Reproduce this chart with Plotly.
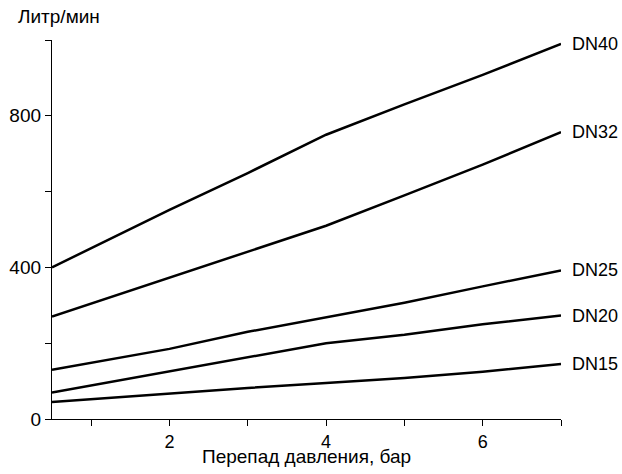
import plotly.graph_objects as go

pressure = [0.5, 2, 3, 4, 5, 6, 7]
dn40 = [400, 552, 649, 750, 830, 908, 990]
dn32 = [270, 372, 442, 510, 590, 671, 757]
dn25 = [130, 185, 230, 268, 307, 350, 392]
dn20 = [70, 125, 162, 200, 222, 250, 273]
dn15 = [45, 68, 82, 95, 108, 125, 145]
series_names = ["DN40", "DN32", "DN25", "DN20", "DN15"]
series_values = [dn40, dn32, dn25, dn20, dn15]

font_family = "Liberation Sans, Arial, sans-serif"
fsize = 19

fig = go.Figure()
for name, vals in zip(series_names, series_values):
    fig.add_trace(go.Scatter(x=pressure, y=vals, mode="lines", name=name,
                             line=dict(color="black", width=2.5), cliponaxis=False))
    fig.add_annotation(x=pressure[-1], y=vals[-1], text=name, showarrow=False,
                       xanchor="left", yanchor="middle", xshift=9,
                       font=dict(family=font_family, size=18, color="black"))

fig.add_annotation(xref="paper", yref="paper", x=-0.071, y=1.0, yshift=11,
                   text="Литр/мин", showarrow=False, xanchor="left", yanchor="bottom",
                   font=dict(family=font_family, size=fsize, color="black"))
fig.add_annotation(xref="paper", yref="paper", x=0.5, y=0.0, yshift=-37,
                   text="Перепад давления, бар", showarrow=False,
                   xanchor="center", yanchor="middle",
                   font=dict(family=font_family, size=fsize, color="black"))

fig.update_layout(
    width=622, height=474,
    margin=dict(l=52, r=61, t=40, b=55, autoexpand=False),
    paper_bgcolor="white", plot_bgcolor="white",
    showlegend=False,
    font=dict(family=font_family, size=fsize, color="black"),
    xaxis=dict(range=[0.5, 7], tick0=0, dtick=2, showgrid=False, zeroline=False,
               automargin=False,
               showline=True, linecolor="black", linewidth=1.3,
               ticks="outside", ticklen=6, tickwidth=1.3, tickcolor="black",
               tickfont=dict(size=18),
               minor=dict(dtick=1, tick0=0, ticks="outside", ticklen=6, tickwidth=1.3, tickcolor="black")),
    yaxis=dict(range=[0, 1000], tick0=0, dtick=400, showgrid=False, zeroline=False,
               automargin=False,
               showline=True, linecolor="black", linewidth=1.3,
               ticks="outside", ticklen=6, tickwidth=1.3, tickcolor="black",
               minor=dict(dtick=200, tick0=0, ticks="outside", ticklen=6, tickwidth=1.3, tickcolor="black")),
)

fig.write_html("out.html", config={"displayModeBar": False},
               post_script="document.body.style.margin='0';")
